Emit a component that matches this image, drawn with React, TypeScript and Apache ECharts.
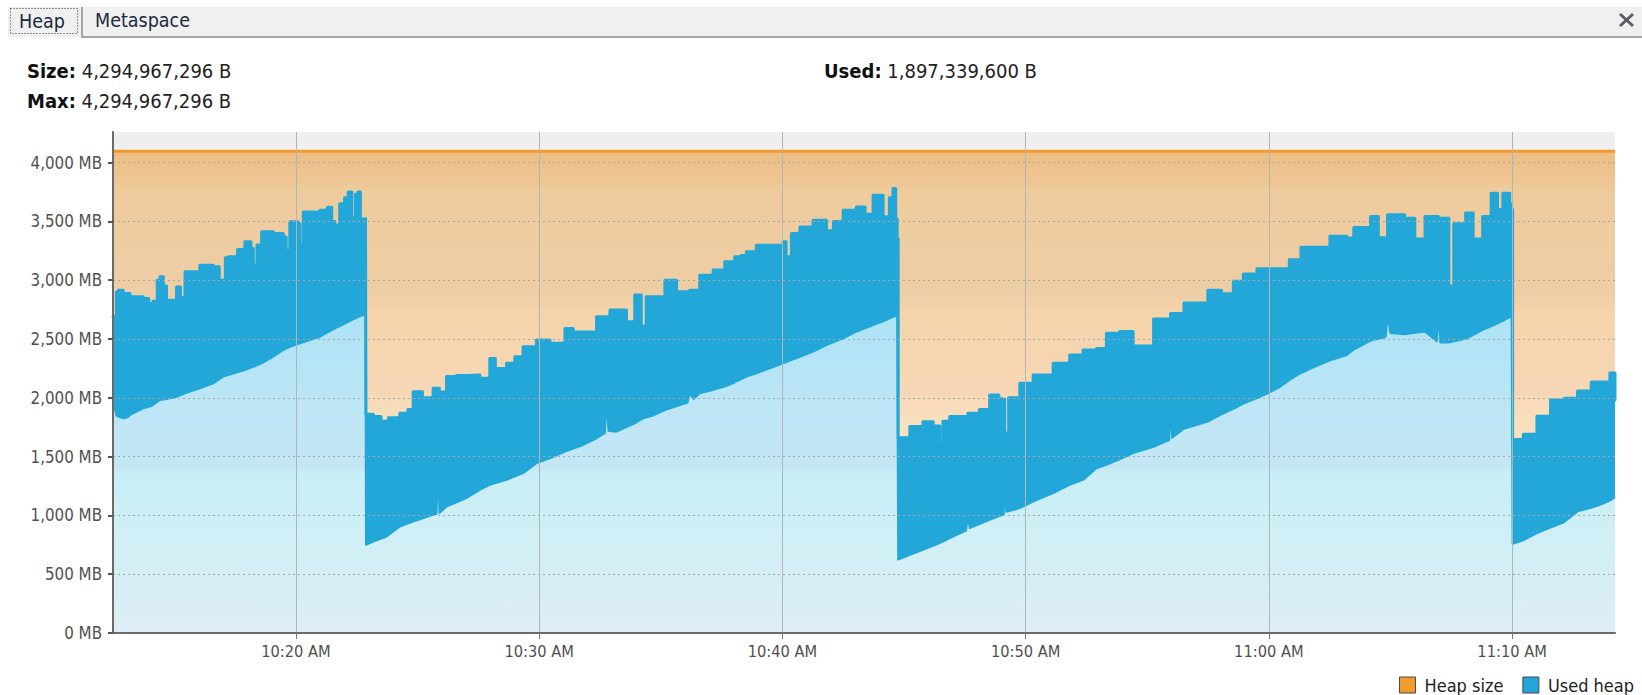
import React, { useEffect, useRef } from 'react';
import * as echarts from 'echarts';

// time in minutes after 10:00 AM
const timeStart = 12.48;
const timeEnd = 74.23;
const xTickMinutes = [20, 30, 40, 50, 60, 70];
const yTickValues = [0, 500, 1000, 1500, 2000, 2500, 3000, 3500, 4000];
const yMax = 4260;
const heapSizeMB = 4096;

const tabLabels = ['Heap', 'Metaspace'];
const sizeText = '4,294,967,296 B';
const maxText = '4,294,967,296 B';
const usedText = '1,897,339,600 B';
const legendNames = ['Heap size', 'Used heap'];

// upper envelope of the used heap (MB)
const usedUpper: [number, number][] = [
  [12.48, 2690], [12.62, 2900], [12.70, 2915], [12.90, 2887], [13.18, 2859], [13.72, 2845],
  [13.95, 2800], [14.05, 2630], [14.12, 2820], [14.30, 3000], [14.41, 3030], [14.55, 2950],
  [14.68, 2830], [15.09, 2943], [15.25, 2850], [15.44, 3071], [16.05, 3128], [16.60, 3114],
  [16.85, 3000], [17.01, 2990], [17.10, 3190], [17.22, 3199], [17.60, 3260], [17.90, 3326],
  [18.15, 3270], [18.25, 3130], [18.40, 3300], [18.59, 3411], [19.07, 3397], [19.48, 3368],
  [19.60, 3250], [19.75, 3496], [20.10, 3480], [20.16, 3300], [20.30, 3580], [20.44, 3580],
  [20.99, 3595], [21.30, 3620], [21.47, 3500], [21.60, 3470], [21.80, 3650], [22.00, 3700],
  [22.15, 3750], [22.30, 3530], [22.45, 3730], [22.56, 3750], [22.65, 3520], [22.80, 3524],
  [22.86, 3500], [22.88, 1860], [23.18, 1840], [23.50, 1800], [23.73, 1650], [23.80, 1830],
  [24.27, 1868], [24.60, 1900], [24.82, 2052], [25.20, 2000], [25.64, 2081], [25.90, 2050],
  [26.19, 2180], [26.60, 2190], [27.01, 2194], [27.56, 2166], [27.97, 2335], [28.20, 2250],
  [28.66, 2293], [29.00, 2350], [29.34, 2434], [29.89, 2491], [30.44, 2463], [31.06, 2590],
  [31.40, 2560], [31.81, 2562], [32.36, 2689], [32.91, 2746], [33.18, 2746], [33.59, 2646],
  [33.93, 2873], [34.20, 2610], [34.40, 2860], [34.69, 2859], [35.17, 3000], [35.65, 2901],
  [36.19, 2915], [36.60, 3043], [37.15, 3086], [37.63, 3156], [38.04, 3199], [38.20, 2890],
  [38.30, 3210], [38.52, 3241], [38.93, 3298], [39.48, 3298], [40.03, 3326], [40.15, 3200],
  [40.37, 3397], [40.72, 3453], [41.26, 3510], [41.81, 3420], [42.10, 3500], [42.50, 3595],
  [43.04, 3623], [43.40, 3560], [43.73, 3722], [44.14, 3540], [44.40, 3700], [44.55, 3779],
  [44.66, 3520], [44.72, 3350], [44.76, 1660], [45.24, 1755], [45.78, 1797], [46.20, 1760],
  [46.47, 1600], [46.60, 1800], [46.88, 1840], [47.63, 1868], [48.10, 1900], [48.52, 2024],
  [48.90, 1990], [49.14, 1700], [49.30, 2000], [49.76, 2123], [50.31, 2194], [51.13, 2293],
  [51.81, 2364], [52.36, 2406], [52.91, 2420], [53.32, 2548], [53.86, 2563], [54.42, 2440],
  [55.26, 2670], [55.96, 2716], [56.51, 2807], [57.49, 2914], [58.05, 2884], [58.54, 2991],
  [58.95, 3052], [59.51, 3098], [60.00, 3098], [60.42, 3100], [60.84, 3174], [61.32, 3281],
  [61.81, 3281], [62.51, 3373], [63.21, 3358], [63.49, 3449], [64.18, 3541], [64.50, 3360],
  [64.88, 3556], [65.58, 3526], [66.00, 3350], [66.42, 3541], [66.97, 3526], [67.40, 2950],
  [67.60, 3480], [68.09, 3572], [68.40, 3350], [68.79, 3541], [69.14, 3740], [69.40, 3600],
  [69.62, 3740], [69.90, 3648], [69.98, 3600], [70.02, 1645], [70.46, 1691], [71.02, 1844],
  [71.58, 1982], [72.13, 1997], [72.69, 2058], [73.25, 2134], [73.67, 2134], [74.02, 2211],
  [74.23, 1982],
];

// lower envelope of the used heap (MB)
const usedLower: [number, number][] = [
  [12.48, 1990], [12.62, 1850], [12.70, 1840], [12.90, 1826], [13.02, 1830], [13.05, 2080],
  [13.08, 1835], [13.18, 1854], [13.72, 1911], [14.07, 1930], [14.41, 1981], [14.68, 1990],
  [15.09, 2009], [15.44, 2038], [16.05, 2081], [16.60, 2123], [17.01, 2180], [17.90, 2236],
  [18.59, 2293], [19.07, 2349], [19.48, 2406], [19.75, 2434], [20.16, 2463], [20.99, 2519],
  [21.47, 2576], [22.15, 2646], [22.56, 2689], [22.77, 2703], [22.86, 2705], [22.88, 750],
  [23.18, 778], [23.73, 820], [24.27, 905], [24.82, 948], [25.64, 1005], [25.78, 1012],
  [25.84, 1430], [25.90, 1020], [26.19, 1076], [27.01, 1147], [27.56, 1217], [27.97, 1260],
  [28.66, 1302], [29.34, 1359], [29.89, 1444], [30.44, 1486], [31.06, 1542], [31.81, 1599],
  [32.36, 1656], [32.70, 1700], [32.78, 1960], [32.85, 1720], [33.18, 1712], [33.93, 1783],
  [34.28, 1826], [34.69, 1850], [35.17, 1896], [36.10, 1960], [36.19, 2040], [36.35, 1990],
  [36.60, 2038], [37.15, 2067], [37.63, 2095], [38.04, 2130], [38.08, 2300], [38.12, 2140],
  [38.52, 2180], [38.93, 2208], [39.48, 2251], [40.03, 2293], [40.37, 2321], [40.72, 2349],
  [41.26, 2392], [41.81, 2448], [42.50, 2505], [43.04, 2562], [43.73, 2618], [44.14, 2650],
  [44.55, 2689], [44.72, 2700], [44.76, 624], [45.24, 665], [45.78, 707], [46.47, 764],
  [46.88, 807], [47.55, 870], [47.63, 1000], [47.70, 892], [48.52, 962], [49.10, 1010],
  [49.14, 1490], [49.20, 1030], [49.76, 1062], [50.31, 1118], [51.13, 1189], [51.81, 1260],
  [52.36, 1302], [52.91, 1401], [53.32, 1430], [53.86, 1477], [54.42, 1530], [55.26, 1584],
  [55.90, 1640], [55.96, 1950], [56.02, 1660], [56.51, 1737], [57.49, 1798], [58.05, 1859],
  [58.54, 1905], [58.95, 1951], [59.51, 1997], [60.00, 2043], [60.42, 2089], [60.84, 2150],
  [61.32, 2211], [61.81, 2257], [62.51, 2318], [63.21, 2364], [63.49, 2410], [64.18, 2486],
  [64.80, 2517], [64.88, 2700], [65.00, 2550], [65.58, 2540], [66.42, 2563], [66.90, 2480],
  [66.97, 2700], [67.05, 2470], [67.39, 2471], [68.09, 2501], [68.79, 2578], [69.14, 2608],
  [69.62, 2654], [69.90, 2685], [69.98, 2690], [70.02, 758], [70.46, 789], [71.02, 850],
  [71.58, 896], [72.13, 942], [72.69, 1034], [73.25, 1064], [73.67, 1095], [74.02, 1125],
  [74.23, 1156],
];

const FONT = '"DejaVu Sans Condensed", "DejaVu Sans", sans-serif';
const BLUE = '#22a7d8';
const ORANGE = '#f29a2c';

function fmtTime(m: number): string {
  const total = Math.round(m);
  const h = 10 + Math.floor(total / 60);
  const mm = total % 60;
  return `${h}:${mm < 10 ? '0' + mm : mm} AM`;
}

export default function App() {
  const ref = useRef<HTMLDivElement>(null);
  useEffect(() => {
    if (!ref.current) return;
    const chart = echarts.init(ref.current, null, { renderer: 'svg' });
    const gridTop = 132;
    const gridBottomY = 633;
    const headerRich = { b: { fontWeight: 'bold', fontSize: 20, fontFamily: FONT, fill: '#111' } };
    const option: any = {
      animation: false,
      backgroundColor: '#ffffff',
      textStyle: { fontFamily: FONT },
      grid: {
        left: 113, right: 27, top: gridTop, bottom: 695 - gridBottomY,
        show: true, backgroundColor: '#efefef', borderWidth: 0,
      },
      legend: {
        data: [
          { name: legendNames[0], icon: 'rect', itemStyle: { color: '#f39c2b', borderColor: '#4a4a4a', borderWidth: 1 } },
          { name: legendNames[1], icon: 'rect', itemStyle: { color: '#22a6d6', borderColor: '#4a4a4a', borderWidth: 1 } },
        ],
        right: 8, top: 676, padding: 0, itemWidth: 16, itemHeight: 16, itemGap: 19,
        textStyle: { fontFamily: FONT, fontSize: 18, color: '#222', lineHeight: 18, padding: [0, 0, 0, 4] },
        selectedMode: false,
      },
      xAxis: {
        type: 'value', min: timeStart, max: timeEnd, z: 10,
        axisLine: { show: true, onZero: false, lineStyle: { color: '#6a6a6a', width: 2 } },
        axisTick: { show: true, customValues: xTickMinutes, length: 6, lineStyle: { color: '#777', width: 1 } },
        axisLabel: { customValues: xTickMinutes, formatter: (v: number) => fmtTime(v), color: '#505050', fontSize: 16.3, fontFamily: FONT, margin: 10 },
        splitLine: { show: true, lineStyle: { color: '#b4b4b4', width: 1 } },
      },
      yAxis: {
        type: 'value', min: 0, max: yMax, z: 10,
        axisLine: { show: true, lineStyle: { color: '#6a6a6a', width: 2 } },
        axisTick: { show: true, customValues: yTickValues, length: 5, lineStyle: { color: '#555', width: 2 } },
        axisLabel: { customValues: yTickValues, formatter: (v: number) => v.toLocaleString('en-US') + ' MB', color: '#505050', fontSize: 16.8, fontFamily: FONT, margin: 11 },
        splitLine: { show: true, lineStyle: { color: '#a8a8a8', width: 1, type: [2, 3] } },
      },
      series: [
        {
          name: legendNames[0], type: 'line', symbol: 'none', silent: true,
          data: [[timeStart, heapSizeMB], [timeEnd, heapSizeMB]],
          lineStyle: { color: ORANGE, width: 3 },
          itemStyle: { color: ORANGE },
          areaStyle: {
            opacity: 1,
            color: new echarts.graphic.LinearGradient(0, 0, 0, 1, [
              { offset: 0, color: '#ecbd84' },
              { offset: 0.06, color: '#eec593' },
              { offset: 0.08, color: '#eecb9c' },
              { offset: 0.30, color: '#eecea6' },
              { offset: 0.33, color: '#f5d4ab' },
              { offset: 0.50, color: '#f7d7b6' },
              { offset: 0.56, color: '#f8e0be' },
              { offset: 1, color: '#fae9cf' },
            ]),
          },
        },
        {
          name: legendNames[1], type: 'line', symbol: 'none', silent: true, step: 'end',
          data: usedUpper,
          lineStyle: { color: BLUE, width: 3, join: 'round', cap: 'round' },
          itemStyle: { color: BLUE },
          areaStyle: { color: BLUE, opacity: 1 },
        },
        {
          name: 'Used heap base', type: 'line', symbol: 'none', silent: true,
          data: usedLower,
          lineStyle: { color: BLUE, width: 2, join: 'round' },
          itemStyle: { color: BLUE },
          areaStyle: {
            opacity: 1,
            color: new echarts.graphic.LinearGradient(0, 151, 0, gridBottomY, [
              { offset: 0.34, color: '#ade3f5' },
              { offset: 0.536, color: '#bde6f6' },
              { offset: 0.655, color: '#c4e6f5' },
              { offset: 0.67, color: '#c8eef6' },
              { offset: 0.80, color: '#d0eff6' },
              { offset: 0.93, color: '#d8eef6' },
              { offset: 1, color: '#deedf5' },
            ], true),
          },
        },
      ],
      graphic: [
        { type: 'rect', shape: { x: 8, y: 7, width: 1634, height: 30 }, style: { fill: '#f0f0f0' }, silent: true },
        { type: 'line', shape: { x1: 82, y1: 37, x2: 1642, y2: 37 }, style: { stroke: '#a5a5a5', lineWidth: 2 }, silent: true },
        { type: 'line', shape: { x1: 82, y1: 7, x2: 82, y2: 38 }, style: { stroke: '#a5a5a5', lineWidth: 2 }, silent: true },
        { type: 'rect', shape: { x: 10.5, y: 8.5, width: 67, height: 25 }, style: { fill: 'none', stroke: '#333', lineWidth: 1, lineDash: [1, 2] }, silent: true },
        { type: 'text', x: 19, y: 21, style: { text: tabLabels[0], fill: '#1a2a40', font: `19.5px ${FONT}`, verticalAlign: 'middle' }, silent: true },
        { type: 'text', x: 95, y: 20, style: { text: tabLabels[1], fill: '#1a2a40', font: `19.5px ${FONT}`, verticalAlign: 'middle' }, silent: true },
        { type: 'line', shape: { x1: 1620, y1: 14, x2: 1633, y2: 26 }, style: { stroke: '#5a5f66', lineWidth: 3 }, silent: true },
        { type: 'line', shape: { x1: 1633, y1: 14, x2: 1620, y2: 26 }, style: { stroke: '#5a5f66', lineWidth: 3 }, silent: true },
        {
          type: 'text', x: 27, y: 71, silent: true,
          style: { text: '{b|Size:} ' + sizeText, fill: '#222', font: `20px ${FONT}`, verticalAlign: 'middle', rich: headerRich },
        },
        {
          type: 'text', x: 27, y: 101, silent: true,
          style: { text: '{b|Max:} ' + maxText, fill: '#222', font: `20px ${FONT}`, verticalAlign: 'middle', rich: headerRich },
        },
        {
          type: 'text', x: 824, y: 71, silent: true,
          style: { text: '{b|Used:} ' + usedText, fill: '#222', font: `20px ${FONT}`, verticalAlign: 'middle', rich: headerRich },
        },
      ],
    };
    chart.setOption(option);
    return () => chart.dispose();
  }, []);
  return (
    <div
      ref={ref}
      style={{ position: 'absolute', left: 0, top: 0, width: 1642, height: 695, background: '#fff' }}
    />
  );
}
